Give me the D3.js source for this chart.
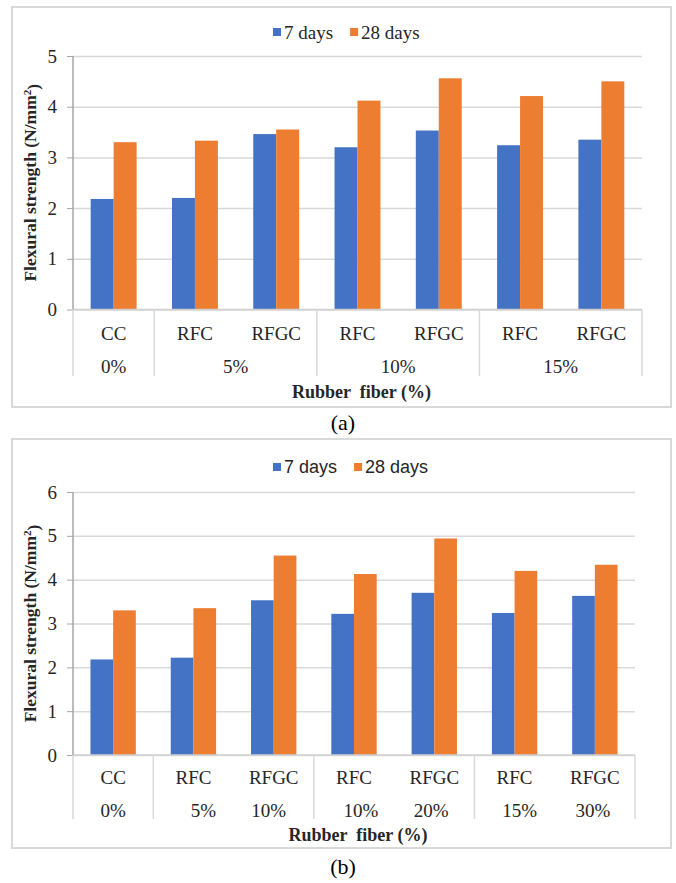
<!DOCTYPE html>
<html>
<head>
<meta charset="utf-8">
<script src="https://cdn.jsdelivr.net/npm/d3@7"></script>
<style>
  body { margin: 0; background: #fff; }
  text { font-family: "Liberation Serif", "Times New Roman", serif; fill: #262626; }
</style>
</head>
<body>
<div id="chart"></div>
<script>
// data
var categories = ["CC", "RFC", "RFGC", "RFC", "RFGC", "RFC", "RFGC"];
var seriesKeys = ["7 days", "28 days"];

var sevenDaysA = [2.18, 2.20, 3.46, 3.20, 3.53, 3.24, 3.35];
var twentyEightDaysA = [3.30, 3.33, 3.55, 4.12, 4.56, 4.21, 4.50];
var groupLabelsA = ["0%", "5%", "10%", "15%"];
var groupSizes = [1, 2, 2, 2];
var yTicksA = [0, 1, 2, 3, 4, 5];

var sevenDaysB = [2.18, 2.22, 3.53, 3.22, 3.70, 3.24, 3.63];
var twentyEightDaysB = [3.30, 3.35, 4.55, 4.13, 4.94, 4.20, 4.34];
var subLabelsB = ["0%", "5%", "10%", "10%", "20%", "15%", "30%"];
var yTicksB = [0, 1, 2, 3, 4, 5, 6];

var z = d3.scaleOrdinal().domain(seriesKeys).range(["#4472C4", "#ED7D31"]);

var svg = d3.select("#chart").append("svg")
    .attr("width", 676)
    .attr("height", 883);

function drawPanel(opt) {
    var g = svg.append("g");

    // outer frame
    g.append("rect")
        .attr("x", 12).attr("y", opt.boxTop)
        .attr("width", 659).attr("height", opt.boxH)
        .attr("fill", "none").attr("stroke", "#d9d9d9").attr("stroke-width", 2);

    var x0 = d3.scaleBand().domain(d3.range(categories.length))
        .range([73, opt.right]).paddingInner(0).paddingOuter(0);
    var x1 = d3.scaleBand().domain(seriesKeys)
        .range([0, x0.bandwidth()]).paddingInner(0).paddingOuter(0.77);
    var y = d3.scaleLinear().domain([0, d3.max(opt.ticks)]).range([opt.y0, opt.yTop]);

    // gridlines
    g.append("g")
        .attr("transform", "translate(73,0)")
        .call(d3.axisLeft(y).tickValues(opt.ticks).tickSize(-(opt.right - 73)).tickFormat(""))
        .call(function(a) {
            a.select(".domain").remove();
            a.selectAll("line").attr("stroke", "#d9d9d9").attr("stroke-width", 1.5);
        });

    // y axis with labels
    g.append("g")
        .attr("transform", "translate(73,0)")
        .call(d3.axisLeft(y).tickValues(opt.ticks).tickFormat(d3.format("d"))
            .tickSizeInner(6).tickSizeOuter(0).tickPadding(10))
        .call(function(a) {
            a.select(".domain").remove();
            a.selectAll("line").attr("stroke", "#a6a6a6");
            a.selectAll("text").style("font-size", "19px")
                .style("font-family", "Liberation Serif, serif").attr("fill", "#262626");
        });

    // bars
    var rows = categories.map(function(c, i) {
        return { i: i, "7 days": opt.seven[i], "28 days": opt.twentyEight[i] };
    });
    g.append("g").selectAll("g")
        .data(rows)
        .enter().append("g")
        .attr("transform", function(d) { return "translate(" + x0(d.i) + ",0)"; })
        .selectAll("rect")
        .data(function(d) { return seriesKeys.map(function(k) { return { key: k, value: d[k] }; }); })
        .enter().append("rect")
        .attr("x", function(d) { return x1(d.key); })
        .attr("y", function(d) { return y(d.value); })
        .attr("width", x1.bandwidth())
        .attr("height", function(d) { return y(0) - y(d.value); })
        .attr("fill", function(d) { return z(d.key); });

    // zero line + vertical axis line
    g.append("line")
        .attr("x1", 73).attr("x2", opt.right).attr("y1", y(0)).attr("y2", y(0))
        .attr("stroke", "#d0d0d0").attr("stroke-width", 1.5);
    g.append("line")
        .attr("x1", 73).attr("x2", 73).attr("y1", opt.yTop).attr("y2", y(0))
        .attr("stroke", "#a6a6a6").attr("stroke-width", 1.5);

    // group separators under the axis
    var bounds = [0], acc = 0;
    groupSizes.forEach(function(s) { acc += s; bounds.push(acc); });
    g.selectAll(".sep")
        .data(bounds)
        .enter().append("line")
        .attr("class", "sep")
        .attr("x1", function(b) { return x0.step() * b + 73; })
        .attr("x2", function(b) { return x0.step() * b + 73; })
        .attr("y1", y(0)).attr("y2", opt.sepBottom)
        .attr("stroke", "#d9d9d9").attr("stroke-width", 1.5);

    // category labels
    g.selectAll(".cat")
        .data(categories)
        .enter().append("text")
        .attr("class", "cat")
        .attr("x", function(d, i) { return x0(i) + x0.bandwidth() / 2; })
        .attr("y", opt.catY)
        .attr("dy", "0.35em")
        .attr("text-anchor", "middle")
        .style("font-size", "19px")
        .text(function(d) { return d; });

    // second level labels
    if (opt.subLabels) {
        g.selectAll(".sub")
            .data(opt.subLabels)
            .enter().append("text")
            .attr("class", "sub")
            .attr("x", function(d, i) { return x0(i) + x0.bandwidth() / 2 + (opt.subShift[i] || 0); })
            .attr("y", opt.grpY)
            .attr("dy", "0.35em")
            .attr("text-anchor", "middle")
            .style("font-size", "19px")
            .text(function(d) { return d; });
    } else {
        g.selectAll(".grp")
            .data(opt.groupLabels)
            .enter().append("text")
            .attr("class", "grp")
            .attr("x", function(d, i) { return 73 + x0.step() * (bounds[i] + bounds[i + 1]) / 2; })
            .attr("y", opt.grpY)
            .attr("dy", "0.35em")
            .attr("text-anchor", "middle")
            .style("font-size", "19px")
            .text(function(d) { return d; });
    }

    // axis titles
    g.append("text")
        .attr("x", (73 + opt.right) / 2 + 4)
        .attr("y", opt.titleY)
        .attr("dy", "0.35em")
        .attr("text-anchor", "middle")
        .attr("font-weight", "bold")
        .attr("xml:space", "preserve")
        .style("font-size", "18px")
        .text("Rubber  fiber (%)");

    var yt = g.append("text")
        .attr("text-anchor", "middle")
        .attr("transform", "translate(30," + ((opt.y0 + opt.yTop) / 2) + ")rotate(-90)")
        .attr("dy", "0.35em")
        .attr("font-weight", "bold")
        .style("font-size", "17.5px");
    yt.append("tspan").text("Flexural strength (N/mm");
    yt.append("tspan").attr("dy", "-0.45em").style("font-size", "11px").text("2");
    yt.append("tspan").attr("dy", "0.45em").text(")");

    // legend
    var legend = g.append("g")
        .attr("transform", "translate(273," + opt.legendY + ")");
    var lx = 0;
    seriesKeys.forEach(function(k) {
        legend.append("rect")
            .attr("x", lx).attr("y", -4)
            .attr("width", 8).attr("height", 8)
            .attr("fill", z(k));
        var t = legend.append("text")
            .attr("x", lx + 11)
            .attr("dy", "0.35em")
            .style("font-size", opt.legendFontSize)
            .style("font-family", opt.legendFont)
            .text(k);
        lx += 11 + t.node().getComputedTextLength() + 17;
    });

    // caption
    svg.append("text")
        .attr("x", 343)
        .attr("y", opt.captionY)
        .attr("dy", "0.35em")
        .attr("text-anchor", "middle")
        .style("font-size", "22px")
        .style("fill", "#000")
        .text(opt.caption);
}

drawPanel({
    boxTop: 7, boxH: 400, right: 642,
    y0: 309.5, yTop: 56, ticks: yTicksA,
    seven: sevenDaysA, twentyEight: twentyEightDaysA,
    groupLabels: groupLabelsA,
    sepBottom: 376, catY: 333, grpY: 366, titleY: 392,
    legendY: 32, legendFont: "Liberation Serif, serif", legendFontSize: "19px",
    caption: "(a)", captionY: 422
});

drawPanel({
    boxTop: 439, boxH: 409, right: 635,
    y0: 755, yTop: 492, ticks: yTicksB,
    seven: sevenDaysB, twentyEight: twentyEightDaysB,
    subLabels: subLabelsB, subShift: [0, 10, -5, 7, -3, 5, -2],
    sepBottom: 819, catY: 777, grpY: 810, titleY: 835,
    legendY: 467, legendFont: "'Liberation Sans Narrow', 'Liberation Sans', sans-serif", legendFontSize: "18px",
    caption: "(b)", captionY: 866
});
</script>
</body>
</html>
